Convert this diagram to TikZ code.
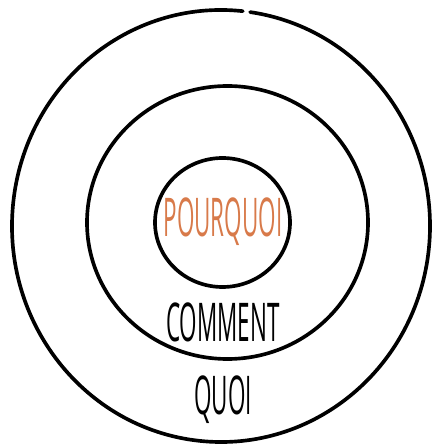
\documentclass[tikz,border=0pt]{standalone}
\usepackage{fontspec}
\newfontfamily\handfont[FakeStretch=0.42]{Open Sans}
\usetikzlibrary{positioning}
\definecolor{rust}{RGB}{216,122,74}

\tikzset{
	ring/.style={line width=2.6pt,line cap=round},
	word/.style={font=\handfont\fontsize{38}{38}\selectfont,inner sep=0pt}
}

\begin{document}
\begin{tikzpicture}[x=0.025cm,y=0.025cm]
	\useasboundingbox (0,0) rectangle (433,446);
	% rings, outer one left open at the top
	\draw[ring] (221,220) ++(84:209 and 216) arc[start angle=84,end angle=442,x radius=209,y radius=216];
	\draw[ring] (227.5,223.5) ellipse[x radius=140.5,y radius=136.5];
	\draw[ring] (222.5,223.5) ellipse[x radius=67.5,y radius=64.5];
	\node[word,rust] (pourquoi) at (223,224) {POURQUOI};
	\node[word,below of=pourquoi,node distance=2.5cm] (comment) {COMMENT};
	\node[word,below of=comment,node distance=1.95cm] (quoi) {QUOI};
\end{tikzpicture}
\end{document}
